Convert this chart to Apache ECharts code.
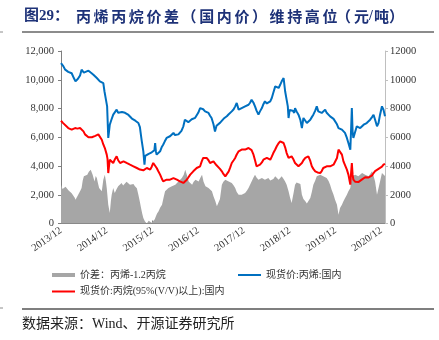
<!DOCTYPE html>
<html>
<head>
<meta charset="utf-8">
<script src="https://cdn.jsdelivr.net/npm/echarts@6/dist/echarts.min.js"></script>
<style>
  html, body { margin: 0; padding: 0; background: #fff; }
  #chart { width: 439px; height: 340px; }
</style>
</head>
<body>
<div id="chart"></div>
<script>
// x values are months counted from 2013/12
var startYear = 2013;
var yTicks = [0, 2000, 4000, 6000, 8000, 10000, 12000];

// 现货价:丙烯:国内 (元/吨)
var propylene = [
  [0,11150],[0.6,10950],[1.1,10700],[1.9,10550],[2.8,10450],[3.4,10100],[3.8,9890],[4.4,10050],[5.0,10300],[5.4,10700],
  [6.0,10500],[6.5,10450],[7.2,10630],[7.8,10500],[8.5,10350],[9.0,10250],[9.4,10120],[10.2,9890],[10.7,9850],[11.1,9770],
  [11.4,9200],[11.8,8600],[12.1,8150],[12.4,5950],[12.6,6400],[12.8,6870],[13.2,7200],[13.7,7570],[14.1,7700],[14.6,7920],
  [15.0,7700],[15.5,7570],[16.0,7750],[16.4,7800],[16.8,7700],[17.2,7690],[17.7,7550],[18.1,7460],[18.6,7300],[19.0,7220],
  [19.5,7150],[19.9,7110],[20.3,6990],[20.7,6700],[21.0,6100],[21.2,5720],[21.6,5020],[21.9,4090],[22.1,4700],[22.5,4790],
  [23.0,4850],[23.4,4790],[23.8,4950],[24.2,4900],[24.5,5100],[24.7,5600],[24.9,5000],[25.1,4790],[25.5,4900],[26.0,5020],
  [26.4,5300],[26.8,5480],[27.2,5700],[27.7,5950],[28.1,5850],[28.6,6070],[29.0,6150],[29.5,6300],[29.9,6150],[30.4,6070],
  [30.8,6200],[31.2,6180],[31.6,6450],[32.1,6760],[32.5,7220],[32.9,7150],[33.4,7050],[33.9,7110],[34.3,7250],[34.7,7220],
  [35.2,7350],[35.6,7460],[36.0,7700],[36.5,8030],[36.9,7900],[37.3,7950],[37.8,7800],[38.2,7750],[38.7,7690],[39.1,7500],
  [39.5,7340],[40.0,6900],[40.4,6400],[40.8,6800],[41.3,6850],[41.7,7000],[42.2,7110],[42.7,7300],[43.1,7350],[43.5,7460],
  [44.0,7600],[44.4,7700],[44.8,7800],[45.3,7950],[45.7,8150],[46.1,8380],[46.6,7920],[47.0,8000],[47.4,8030],[47.9,8100],
  [48.3,8150],[48.8,8200],[49.2,8260],[49.6,8400],[50.0,8610],[50.5,8400],[50.9,8150],[51.3,7850],[51.8,7570],[52.2,7800],
  [52.7,8030],[53.1,8300],[53.5,8500],[54.0,8350],[54.4,8260],[54.9,8500],[55.3,8730],[55.7,9100],[56.2,9540],[56.6,9500],
  [57.1,9430],[57.5,9650],[57.9,9890],[58.4,10120],[58.8,9200],[59.2,8600],[59.5,8150],[59.7,7340],[60.0,7900],[60.3,8030],
  [60.8,7850],[61.2,7690],[61.4,8030],[61.8,7800],[62.3,7570],[62.8,7200],[63.2,6640],[63.6,7340],[64.1,7150],[64.5,6990],
  [64.9,7100],[65.4,7220],[65.8,7400],[66.2,7570],[66.7,7850],[67.1,8150],[67.5,7800],[68.0,7750],[68.4,7690],[68.8,7800],
  [69.3,7920],[69.7,7700],[70.2,7570],[70.6,7450],[71.0,7340],[71.5,7280],[71.9,7220],[72.4,6900],[72.8,6640],[73.2,6600],
  [73.7,6530],[74.1,6400],[74.5,6300],[75.0,5950],[75.4,5600],[75.9,5140],[76.1,6500],[76.3,8030],[76.5,6400],[76.7,5950],
  [77.2,6070],[77.6,6760],[78.0,6700],[78.5,6640],[78.9,6750],[79.4,6870],[79.8,6900],[80.2,6990],[80.7,7100],[81.1,7220],
  [81.6,7400],[82.0,7570],[82.4,7220],[82.9,6760],[83.3,6990],[83.7,7570],[84.2,8150],[84.6,7920],[85.0,7460]
];

// 现货价:丙烷(95%(V/V)以上):国内 (元/吨)
var propane = [
  [0,7150],[0.5,7000],[1.0,6870],[1.9,6640],[2.8,6530],[3.7,6640],[4.3,6600],[5.0,6640],[5.4,6550],[5.9,6410],
  [6.3,6200],[6.7,6070],[7.2,6000],[7.6,5950],[8.1,6000],[8.5,6070],[9.0,6100],[9.4,6070],[9.8,6200],[10.2,6300],
  [10.7,5830],[11.1,5500],[11.5,5250],[12.0,4790],[12.2,4500],[12.4,3510],[12.6,4000],[12.8,4440],[13.2,4350],[13.7,4210],
  [14.1,4450],[14.6,4670],[15.0,4400],[15.5,4210],[16.0,4300],[16.4,4320],[16.8,4250],[17.2,4210],[17.7,4150],[18.1,4090],
  [18.6,4000],[19.0,3980],[19.5,3900],[19.9,3860],[20.3,3800],[20.7,3750],[21.2,3800],[21.6,3700],[22.0,3820],[22.5,3860],
  [23.0,3800],[23.4,3750],[23.8,3950],[24.2,4210],[24.7,4100],[25.1,3860],[25.5,3650],[26.0,3400],[26.4,3150],[26.8,2930],
  [27.2,3000],[27.7,3050],[28.1,3100],[28.6,3050],[29.0,3100],[29.5,3160],[29.9,3100],[30.4,3050],[30.8,2980],[31.2,2930],
  [31.7,2880],[32.1,2820],[32.5,2900],[33.0,3050],[33.4,3200],[33.9,3400],[34.3,3500],[34.7,3630],[35.2,3750],[35.6,3860],
  [36.0,3900],[36.5,3980],[36.9,4300],[37.3,4560],[37.8,4500],[38.2,4560],[38.7,4400],[39.1,4210],[39.5,4300],[40.0,4320],
  [40.4,4210],[40.8,4050],[41.3,3980],[41.7,3800],[42.2,3630],[42.6,3450],[43.1,3280],[43.5,3400],[44.0,3630],[44.4,3900],
  [44.8,4210],[45.3,4400],[45.7,4560],[46.1,4800],[46.6,5020],[47.0,5100],[47.4,5140],[47.9,5100],[48.3,5140],[48.8,5200],
  [49.2,5250],[49.6,5300],[50.0,5100],[50.5,4790],[50.9,4400],[51.3,3980],[51.8,4050],[52.2,4090],[52.7,4250],[53.1,4440],
  [53.5,4500],[54.0,4560],[54.4,4500],[54.9,4440],[55.3,4650],[55.7,4900],[56.2,5150],[56.6,5370],[57.0,5550],[57.5,5720],
  [57.9,5700],[58.4,5600],[58.8,5300],[59.2,4900],[59.7,4560],[60.1,4620],[60.5,4670],[61.0,4450],[61.4,4210],[61.8,4100],
  [62.3,3980],[62.8,4100],[63.2,4210],[63.6,4400],[64.1,4560],[64.5,4620],[64.9,4670],[65.4,4350],[65.8,3980],[66.2,3800],
  [66.7,3630],[67.3,3550],[68.0,3510],[68.4,3650],[68.8,3860],[69.3,3950],[69.7,3980],[70.2,3950],[70.6,3980],[71.0,4050],
  [71.5,4090],[71.9,4300],[72.4,4560],[72.8,5140],[73.2,5250],[73.7,4790],[74.1,4320],[74.5,4210],[75.0,3750],[75.4,3400],
  [75.9,2700],[76.1,3500],[76.3,4210],[76.5,3400],[76.7,3050],[77.2,2900],[77.6,2820],[78.0,2880],[78.5,2930],[78.9,3050],
  [79.4,3160],[79.8,3220],[80.2,3280],[80.7,3200],[81.1,3160],[81.6,3350],[82.0,3510],[82.4,3650],[82.9,3750],[83.3,3800],
  [83.7,3860],[84.2,3950],[84.6,4090],[85.0,4150]
];

// 价差：丙烯-1.2丙烷 (元/吨)
var spread = [
  [0,2700],[0.4,2400],[0.8,2350],[1.2,2550],[1.6,2470],[2.0,2300],[2.4,2240],[2.8,2100],[3.2,2000],[3.6,1800],
  [3.8,1660],[4.3,1900],[4.8,2000],[5.1,2300],[5.4,2470],[5.7,3000],[6.0,3280],[6.4,3200],[6.9,3400],[7.3,3600],
  [7.8,3740],[8.3,3400],[8.8,2930],[9.1,3300],[9.4,3160],[9.7,2800],[10.0,2470],[10.4,2350],[10.7,2240],[11.1,3050],
  [11.5,3400],[11.8,2900],[12.0,2470],[12.4,1310],[12.8,730],[13.1,1600],[13.3,2000],[13.7,2470],[14.1,2120],[14.6,2400],
  [15.0,2590],[15.4,2700],[15.9,2820],[16.3,2650],[16.8,2700],[17.2,2900],[17.6,2820],[18.1,2700],[18.5,2590],[19.0,2750],
  [19.4,2600],[19.9,2450],[20.3,2000],[20.7,1500],[21.0,1080],[21.3,700],[21.6,380],[22.0,150],[22.5,0],[23.0,200],
  [23.4,100],[23.8,50],[24.2,0],[24.6,300],[24.9,500],[25.2,700],[25.6,850],[26.0,1100],[26.5,1310],[26.9,1800],
  [27.3,2240],[27.8,2350],[28.2,2470],[28.6,2550],[29.1,2590],[29.5,2650],[30.0,2700],[30.4,2800],[30.8,2930],[31.3,3050],
  [31.7,3160],[32.2,3400],[32.6,3740],[33.0,3400],[33.5,2930],[33.9,2800],[34.4,2700],[34.8,2900],[35.3,3050],[35.7,3000],
  [36.1,2930],[36.6,3200],[37.0,3400],[37.4,2900],[37.9,2590],[38.3,2500],[38.7,2470],[39.2,2400],[39.6,2240],[40.0,1900],
  [40.5,1540],[40.9,1200],[41.3,1080],[41.7,1700],[42.2,2700],[42.6,2900],[43.1,3050],[43.5,3000],[44.0,2930],[44.4,2900],
  [44.8,2820],[45.3,2650],[45.7,2470],[46.1,2200],[46.6,2000],[47.0,2050],[47.4,2000],[47.9,2050],[48.3,2120],[48.8,2300],
  [49.2,2470],[49.6,2700],[50.0,2930],[50.5,3200],[50.9,3400],[51.3,3200],[51.8,3050],[52.2,3100],[52.7,3160],[53.1,3100],
  [53.5,3050],[54.0,3100],[54.4,3160],[54.9,3000],[55.3,2930],[55.7,3100],[56.2,3280],[56.6,3150],[57.1,3050],[57.5,3150],
  [57.9,3280],[58.4,3100],[58.8,2930],[59.2,2700],[59.7,2240],[60.1,1800],[60.5,1430],[61.0,2100],[61.4,2700],[61.8,2850],
  [62.3,2930],[62.8,2750],[63.2,2000],[63.6,1700],[64.1,1540],[64.5,1400],[64.9,1310],[65.4,1770],[65.8,2200],[66.2,2700],
  [66.7,3000],[67.1,3280],[67.5,3350],[68.0,3400],[68.4,3350],[68.8,3280],[69.3,3200],[69.7,3160],[70.2,2950],[70.6,2700],
  [71.0,2350],[71.5,2000],[71.9,1650],[72.4,1310],[72.8,610],[73.2,1080],[73.7,1300],[74.1,1540],[74.5,1750],[75.0,2000],
  [75.4,2250],[75.9,2470],[76.3,3280],[76.7,3350],[77.2,3400],[77.6,3350],[78.0,3280],[78.5,3400],[79.0,3510],[79.4,3450],
  [79.8,3400],[80.2,3350],[80.7,3280],[81.1,3450],[81.6,3630],[82.0,3300],[82.4,2930],[82.9,2000],[83.3,1890],[83.7,2930],
  [84.2,3510],[84.6,3400],[85.0,3300]
];

var seriesNames = ['价差：丙烯-1.2丙烷', '现货价:丙烯:国内', '现货价:丙烷(95%(V/V)以上):国内'];
var titleLead = '图29：';
var titleBody = '丙烯丙烷价差（国内价）维持高位';
var titleTail = ['（', '元', '/', '吨', '）'];
var sourceText = '数据来源：Wind、开源证券研究所';

var serif = '"Liberation Serif", "Noto Sans CJK SC", serif';
var cjk = '"Noto Sans CJK SC", sans-serif';
var titleColor = '#1e3278';
var titleFont = 'bold 15px ' + cjk;

function withComma(v) {
  return String(v).replace(/\B(?=(\d{3})+(?!\d))/g, ',');
}

// Title is set character by character to get the wide, evenly spaced heading
var titleGraphics = [
  { type: 'text', x: 24, y: 9, style: { text: titleLead, fill: titleColor, font: 'bold 15px ' + serif } }
];
(function () {
  var chars = titleBody.split('');
  for (var i = 0; i < chars.length; i++) {
    titleGraphics.push({ type: 'text', x: 76 + i * 17.6, y: 9,
      style: { text: chars[i], fill: titleColor, font: titleFont } });
  }
  var tailX = [336, 354, 369, 374, 389];
  for (var j = 0; j < titleTail.length; j++) {
    titleGraphics.push({ type: 'text', x: tailX[j], y: 9,
      style: { text: titleTail[j], fill: titleColor, font: titleTail[j] === '/' ? 'bold 14px ' + serif : titleFont } });
  }
})();

var chart = echarts.init(document.getElementById('chart'), null, { renderer: 'canvas' });

var legendText = { fontSize: 10, color: '#333', fontFamily: serif };

chart.setOption({
  animation: false,
  backgroundColor: '#fff',
  grid: { left: 61, right: 54, top: 51, bottom: 116.5, containLabel: false },
  legend: [
    { data: [{ name: seriesNames[0], icon: 'rect' }], left: 47, top: 265, itemWidth: 23, itemHeight: 4,
      textStyle: legendText, itemGap: 0 },
    { data: [{ name: seriesNames[1], icon: 'rect' }], left: 233, top: 265, itemWidth: 23, itemHeight: 2,
      textStyle: legendText, itemGap: 0 },
    { data: [{ name: seriesNames[2], icon: 'rect' }], left: 47, top: 281.5, itemWidth: 23, itemHeight: 2,
      textStyle: legendText, itemGap: 0 }
  ],
  xAxis: {
    type: 'value', min: 0, max: 85, interval: 12,
    axisLine: { show: true, lineStyle: { color: '#7f7f7f', width: 1 } },
    axisTick: { show: true, inside: true, length: 3, lineStyle: { color: '#7f7f7f' } },
    splitLine: { show: false },
    axisLabel: {
      rotate: 35, fontSize: 10.5, color: '#333', fontFamily: serif, margin: 6,
      showMaxLabel: false,
      formatter: function (v) {
        if (v % 12 !== 0) return '';
        return (startYear + v / 12) + '/12';
      }
    }
  },
  yAxis: [
    {
      type: 'value', min: yTicks[0], max: yTicks[yTicks.length - 1], interval: 2000,
      axisLine: { show: true, lineStyle: { color: '#7f7f7f' } },
      axisTick: { show: true, length: 3, lineStyle: { color: '#7f7f7f' } },
      splitLine: { show: false },
      axisLabel: { fontSize: 10.5, color: '#333', fontFamily: serif, margin: 7, formatter: withComma }
    },
    {
      type: 'value', min: yTicks[0], max: yTicks[yTicks.length - 1], interval: 2000, position: 'right',
      axisLine: { show: true, lineStyle: { color: '#bfbfbf' } },
      axisTick: { show: true, length: 3, lineStyle: { color: '#bfbfbf' } },
      splitLine: { show: false },
      axisLabel: { fontSize: 10.5, color: '#333', fontFamily: serif, margin: 5,
        formatter: function (v) { return String(v); } }
    }
  ],
  series: [
    {
      name: seriesNames[0], type: 'line', yAxisIndex: 1, data: spread,
      showSymbol: false, symbol: 'none', smooth: false, legendIcon: 'rect',
      lineStyle: { width: 0, color: '#a6a6a6' },
      itemStyle: { color: '#a6a6a6' },
      areaStyle: { color: '#a6a6a6', opacity: 1 },
      z: 1
    },
    {
      name: seriesNames[1], type: 'line', yAxisIndex: 0, data: propylene,
      showSymbol: false, symbol: 'none', legendIcon: 'rect',
      lineStyle: { width: 2, color: '#0070c0' },
      itemStyle: { color: '#0070c0' },
      z: 3
    },
    {
      name: seriesNames[2], type: 'line', yAxisIndex: 0, data: propane,
      showSymbol: false, symbol: 'none', legendIcon: 'rect',
      lineStyle: { width: 2, color: '#ff0000' },
      itemStyle: { color: '#ff0000' },
      z: 2
    }
  ],
  graphic: titleGraphics.concat([
    { type: 'line', shape: { x1: 22, y1: 32, x2: 434, y2: 32 }, style: { stroke: '#8c8c8c', lineWidth: 2 } },
    { type: 'line', shape: { x1: 0, y1: 32, x2: 3, y2: 32 }, style: { stroke: '#8c8c8c', lineWidth: 1 } },
    { type: 'line', shape: { x1: 22, y1: 309, x2: 434, y2: 309 }, style: { stroke: '#555', lineWidth: 1.5 } },
    { type: 'line', shape: { x1: 0, y1: 308, x2: 3, y2: 308 }, style: { stroke: '#8c8c8c', lineWidth: 1 } },
    { type: 'text', left: 22, top: 317, style: { text: sourceText, fill: '#222', font: '14px ' + serif } }
  ])
});
</script>
</body>
</html>
